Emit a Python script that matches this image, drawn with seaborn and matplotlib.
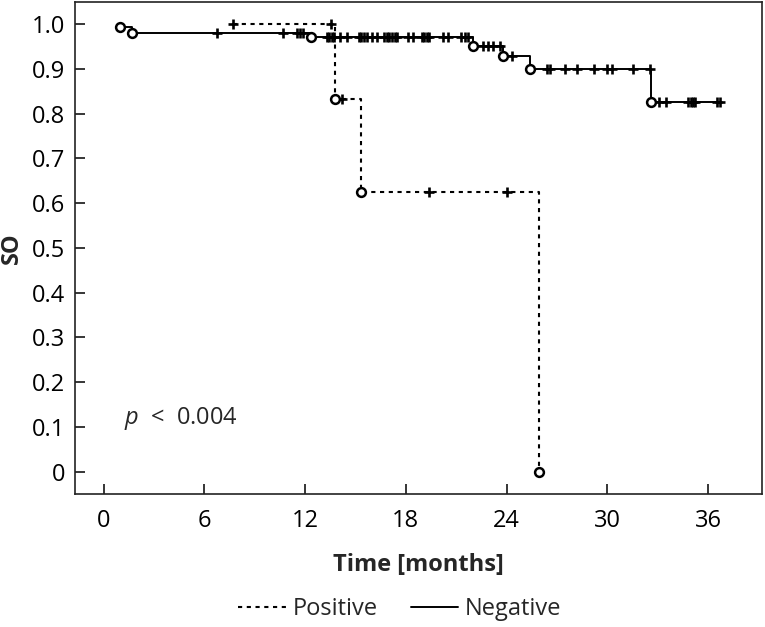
import numpy as np
import pandas as pd
import matplotlib
matplotlib.use("Agg")
import matplotlib.pyplot as plt
from matplotlib.lines import Line2D
import seaborn as sns

# ---------------- data ----------------
neg_event_times = [1.0, 1.7, 12.35, 22.0, 23.8, 25.4, 32.6]
neg_event_surv = [0.993, 0.980, 0.971, 0.951, 0.928, 0.901, 0.826]
neg_censor_times = [6.75, 10.7, 11.5, 11.7, 11.9,
                    13.3, 13.45, 13.6, 13.7, 14.1, 14.5,
                    15.2, 15.35, 15.5, 15.7, 16.0, 16.3,
                    16.7, 16.85, 17.0, 17.2, 17.35, 17.5,
                    18.1, 18.4, 18.95, 19.1, 19.25, 19.4,
                    20.2, 20.5, 21.3, 21.5, 21.7,
                    22.6, 22.9, 23.2, 23.6, 24.3,
                    26.4, 26.6, 27.5, 28.2, 29.2, 30.0, 30.3, 31.5, 32.55,
                    33.1, 33.5, 34.8, 34.95, 35.1, 35.2, 36.5, 36.7]

pos_event_times = [13.77, 15.3, 25.9]
pos_event_surv = [0.833, 0.625, 0.0]
pos_censor_times = [7.7, 13.57, 14.2, 19.4, 24.0]

x_ticks = [0, 6, 12, 18, 24, 30, 36]
y_ticks = [0, 0.1, 0.2, 0.3, 0.4, 0.5, 0.6, 0.7, 0.8, 0.9, 1.0]
y_tick_labels = ["0", "0.1", "0.2", "0.3", "0.4", "0.5", "0.6", "0.7", "0.8", "0.9", "1.0"]
group_names = ["Positive", "Negative"]
p_text = "$p$  <  0.004"
x_label = "Time [months]"
y_label = "SO"


def surv_at(t, ev_t, ev_s):
    ev_t = np.asarray(ev_t)
    ev_s = np.asarray(ev_s)
    idx = np.searchsorted(ev_t, np.asarray(t, dtype=float), side="right") - 1
    return np.where(idx >= 0, ev_s[np.clip(idx, 0, None)], 1.0)


def km_frames(ev_t, ev_s, cen_t):
    xs = np.sort(np.concatenate([ev_t, cen_t]))
    path = pd.DataFrame({"t": xs, "s": surv_at(xs, ev_t, ev_s)})
    events = pd.DataFrame({"t": ev_t, "s": ev_s})
    cens = pd.DataFrame({"t": cen_t, "s": surv_at(cen_t, ev_t, ev_s)})
    return path, events, cens


# ---------------- style ----------------
sns.set_theme(style="ticks")
plt.rcParams["font.family"] = ["Open Sans", "DejaVu Sans"]
plt.rcParams["mathtext.fontset"] = "custom"
plt.rcParams["mathtext.it"] = "Open Sans:italic"
plt.rcParams["mathtext.rm"] = "Open Sans"

FS = 17
dash_style = (0, (2.0, 2.2))

fig = plt.figure(figsize=(7.65, 6.27), dpi=100)
ax = fig.add_axes([0.098, 0.212, 0.898, 0.785])

groups = [
    (pos_event_times, pos_event_surv, pos_censor_times, dash_style, 1.5),
    (neg_event_times, neg_event_surv, neg_censor_times, "-", 1.4),
]
for ev_t, ev_s, cen_t, ls, lw in groups:
    path, events, cens = km_frames(ev_t, ev_s, cen_t)
    sns.lineplot(data=path, x="t", y="s", ax=ax, estimator=None, sort=False,
                 drawstyle="steps-post", color="black", linewidth=lw,
                 linestyle=ls, zorder=2)
    sns.scatterplot(data=cens, x="t", y="s", ax=ax, marker="+", s=60,
                    color="black", linewidth=1.9, zorder=3)
    sns.scatterplot(data=events, x="t", y="s", ax=ax, marker="o", s=40,
                    facecolor="white", edgecolor="black", linewidth=1.8,
                    zorder=4)

ax.set_xlim(-1.7, 39.2)
ax.set_ylim(-0.05, 1.05)
ax.set_xticks(x_ticks)
ax.set_xticklabels([str(v) for v in x_ticks])
ax.set_yticks(y_ticks)
ax.set_yticklabels(y_tick_labels)
ax.tick_params(direction="in", length=7, width=1.1, colors="black",
               labelsize=FS)
ax.tick_params(axis="x", pad=11)
ax.tick_params(axis="y", pad=7)
for sp in ax.spines.values():
    sp.set_visible(True)
    sp.set_color("#222222")
    sp.set_linewidth(1.2)

ax.set_xlabel(x_label, fontsize=FS, fontweight="bold", labelpad=14)
ax.set_ylabel(y_label, fontsize=FS, fontweight="bold", labelpad=6)

ax.text(1.2, 0.12, p_text, fontsize=FS, va="center", ha="left")

handles = [Line2D([], [], color="black", linestyle=dash_style, linewidth=1.5),
           Line2D([], [], color="black", linestyle="-", linewidth=1.4)]
fig.legend(handles, group_names, loc="center", bbox_to_anchor=(0.523, 0.029),
           ncol=2, frameon=False, fontsize=FS, handlelength=2.0,
           handletextpad=0.3, columnspacing=1.4)

fig.savefig("out.png", dpi=100)
